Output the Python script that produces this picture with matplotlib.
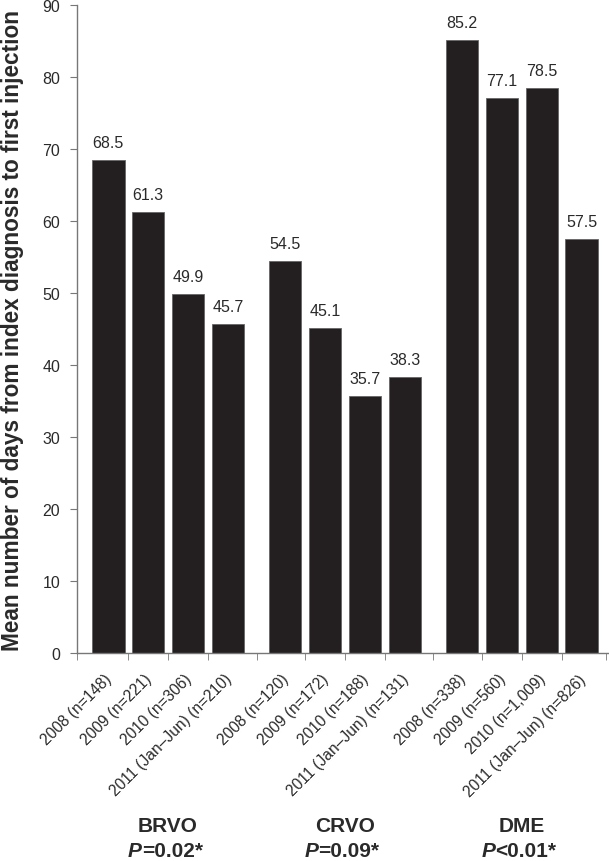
import matplotlib.pyplot as plt
from matplotlib.transforms import ScaledTranslation
import numpy as np

plt.rcParams['font.family'] = ['Liberation Sans', 'DejaVu Sans']

groups = ["BRVO", "CRVO", "DME"]
p_values = ["=0.02*", "=0.09*", "<0.01*"]
year_labels = [
    ["2008 (n=148)", "2009 (n=221)", "2010 (n=306)", "2011 (Jan\u2013Jun) (n=210)"],
    ["2008 (n=120)", "2009 (n=172)", "2010 (n=188)", "2011 (Jan\u2013Jun) (n=131)"],
    ["2008 (n=338)", "2009 (n=560)", "2010 (n=1,009)", "2011 (Jan\u2013Jun) (n=826)"],
]
brvo_days = [68.5, 61.3, 49.9, 45.7]
crvo_days = [54.5, 45.1, 35.7, 38.3]
dme_days = [85.2, 77.1, 78.5, 57.5]

BAR_COLOR = "#231f20"
TEXT_COLOR = "#2a2a2a"
AXIS_COLOR = "#777777"
GROUP_STEP = 4.43


def main():
    fig = plt.figure(figsize=(6.09, 8.62), dpi=100)
    ax = fig.add_axes([0.1264, 0.2413, 0.8736, 0.7517])

    values = [brvo_days, crvo_days, dme_days]
    xs_all = []
    labels_all = []
    for g, vals in enumerate(values):
        xs = np.arange(len(vals)) + g * GROUP_STEP
        ax.bar(xs, vals, width=0.82, color=BAR_COLOR, edgecolor="#666666", linewidth=0.6)
        for x, v in zip(xs, vals):
            ax.text(x, v + 1.4, f"{v:.1f}", ha="center", va="bottom",
                    fontsize=11.5, color=TEXT_COLOR)
        xs_all.extend(xs)
        labels_all.extend(year_labels[g])

        # group names below tick labels
        xc = xs.mean()
        ax.annotate(groups[g], xy=(xc, 0), xycoords=("data", "axes fraction"),
                    xytext=(0, -124.5), textcoords="offset points",
                    ha="center", va="center", fontsize=15, fontweight="bold",
                    color=TEXT_COLOR)
        ax.annotate("P", xy=(xc, 0), xycoords=("data", "axes fraction"),
                    xytext=(-19, -142), textcoords="offset points",
                    ha="right", va="center", fontsize=15, fontweight="bold",
                    fontstyle="italic", color=TEXT_COLOR)
        ax.annotate(p_values[g], xy=(xc, 0), xycoords=("data", "axes fraction"),
                    xytext=(-19, -142), textcoords="offset points",
                    ha="left", va="center", fontsize=15, fontweight="bold",
                    color=TEXT_COLOR)

    xs_all = np.array(xs_all)
    ax.set_xticks(xs_all)
    ax.set_xticklabels(labels_all, rotation=45, ha="right", rotation_mode="anchor",
                       fontsize=11.2, color=TEXT_COLOR)
    ax.tick_params(axis="x", length=0, pad=13)
    shift = ScaledTranslation(-0.04, 0, fig.dpi_scale_trans)
    for lab in ax.get_xticklabels():
        lab.set_transform(lab.get_transform() + shift)

    # boundary tick marks between bars
    mids = list((xs_all[:-1] + xs_all[1:]) / 2)
    ax.set_xticks([-0.78] + mids + [xs_all[-1] + 0.6], minor=True)
    ax.tick_params(axis="x", which="minor", length=5, color=AXIS_COLOR, direction="out")

    ax.set_xlim(-0.78, xs_all[-1] + 0.68)
    ax.set_ylim(0, 90)
    ax.set_yticks(range(0, 91, 10))
    ax.tick_params(axis="y", length=5, color=AXIS_COLOR, labelsize=11.5,
                   labelcolor=TEXT_COLOR, pad=7)

    for side in ["top", "right"]:
        ax.spines[side].set_visible(False)
    for side in ["left", "bottom"]:
        ax.spines[side].set_color(AXIS_COLOR)
        ax.spines[side].set_linewidth(1.0)

    ax.set_ylabel("Mean number of days from index diagnosis to first injection",
                  fontsize=16.3, fontweight="bold", color=TEXT_COLOR)
    ax.yaxis.set_label_coords(-0.100, 0.5)

    fig.savefig("out.png", dpi=100)


if __name__ == "__main__":
    main()
